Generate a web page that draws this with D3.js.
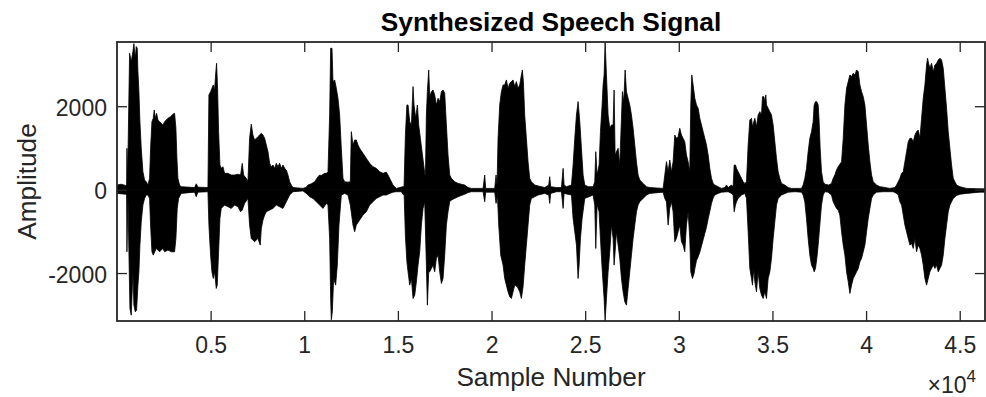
<!DOCTYPE html>
<html><head><meta charset="utf-8">
<script src="https://cdn.jsdelivr.net/npm/d3@7"></script>
<style>html,body{margin:0;padding:0;background:#fff;}svg{display:block;}</style>
</head><body>
<script>
// ---------- data ----------
const titleText = "Synthesized Speech Signal";
const xLabelText = "Sample Number";
const yLabelText = "Amplitude";
const xDomain = [1, 46350];
const yDomain = [-3150, 3540];
const xTickValues = [5000, 10000, 15000, 20000, 25000, 30000, 35000, 40000, 45000];
const xTickLabels = ["0.5", "1", "1.5", "2", "2.5", "3", "3.5", "4", "4.5"];
const yTickValues = [-2000, 0, 2000];
const yTickLabels = ["-2000", "0", "2000"];
const xExponent = "4";

// upper envelope of the waveform: [sample, amplitude]
const upperEnvelope = [
[1,110],[228,130],[459,100],[513,110],[531,990],[566,300],[602,1230],[673,3270],[762,3070],[851,3310],[904,3500],[976,3150],[1029,3430],[1082,3390],[1118,2830],[1171,2350],[1225,1630],[1296,990],[1385,430],[1474,230],[1563,190],[1652,110],[1741,270],[1794,990],[1866,1630],[1937,1710],[1990,1910],[2044,1710],[2115,1830],[2186,1670],[2275,1630],[2364,1590],[2453,1550],[2542,1630],[2631,1670],[2720,1710],[2862,1750],[2987,1810],[3076,1830],[3147,1470],[3201,750],[3254,270],[3343,110],[3432,70],[4144,50],[4233,140],[4322,60],[4856,50],[4909,2270],[4998,2350],[5070,2430],[5141,2510],[5212,2390],[5265,2750],[5319,3030],[5372,2430],[5426,1390],[5497,590],[5568,510],[5657,550],[5746,390],[5924,390],[6102,350],[6280,350],[6458,370],[6600,350],[6689,630],[6761,350],[6903,270],[6992,190],[7081,1230],[7170,1570],[7259,1310],[7348,1190],[7526,1270],
[7707,1350],[7796,1310],[7885,1230],[7974,1070],[8063,910],[8152,630],[8241,550],[8330,590],[8419,510],[8508,630],[8597,550],[8686,630],[8775,510],[8864,590],[8953,510],[9042,470],[9131,350],[9220,190],[9309,110],[9398,50],[9932,30],[10110,60],[10199,110],[10377,140],[10555,190],[10733,310],[10822,350],[10911,340],[11089,390],[11178,390],[11267,430],[11356,1790],[11409,3390],[11481,3390],[11534,2590],[11623,2630],[11712,2430],[11801,2190],[11890,1790],[11979,990],[12068,270],[12157,190],[12335,180],[12460,190],[12513,1390],[12602,1070],[12691,1190],[12780,1190],[12869,1070],[12958,990],[13136,870],[13314,750],[13492,630],[13670,550],[13848,510],[14026,430],[14204,390],[14382,420],[14471,350],[14560,270],[14738,110],[14916,30],[15094,50],[15272,70],
[15330,100],[15400,1300],[15480,2030],[15542,2030],[15631,1630],[15720,1550],[15809,2470],[15862,2030],[15951,1710],[16040,2030],[16112,1550],[16201,1230],[16290,910],[16379,590],[16468,270],[16521,1790],[16574,2350],[16646,2870],[16699,2230],[16788,2350],[16877,2390],[16966,2270],[17055,2030],[17144,2190],[17233,2110],[17322,2350],[17411,2390],[17500,2310],[17589,1550],[17678,830],[17767,350],[17856,270],[18034,190],[18212,150],[18390,130],[18568,110],[18746,50],[18924,30],[19547,30],[19636,350],[19689,30],[20170,30],[20241,350],[20295,110],[20348,1230],[20437,2030],[20526,2350],[20615,2510],[20704,2510],[20793,2630],[20882,2430],[20971,2550],[21060,2590],[21149,2630],[21238,2470],[21327,2590],[21416,2430],[21505,2510],[21594,2750],[21647,2870],[21701,2590],[21772,1790],[21861,1230],[21950,670],[22039,270],[22128,190],[22306,110],[22484,90],[22840,50],[23054,110],[23107,310],[23160,70],
[23466,50],[23733,50],[23822,510],[23875,110],[24000,70],[24267,110],[24356,590],[24445,1230],[24534,1790],[24623,2110],[24712,1630],[24801,990],[24890,350],[24979,110],[25157,70],[25424,70],[25513,190],[25566,910],[25638,350],[25744,590],[25816,1390],[25905,2030],[25958,2510],[26011,2750],[26065,3540],[26136,2750],[26225,1790],[26314,1470],[26403,1550],[26492,1550],[26545,2390],[26599,830],[26670,910],[26759,990],[26848,590],[26937,1710],[26990,2350],[27062,2110],[27133,2870],[27204,2350],[27293,2190],[27382,2030],[27471,1790],[27560,1470],[27649,1070],[27738,670],[27827,350],[27916,230],[28094,150],[28272,70],[28450,50],[29162,30],[29340,670],[29429,430],[29518,710],[29607,430],[29696,670],[29785,1310],[29874,1230],[29963,1270],[30052,1470],[30141,1310],[30230,1230],[30319,1150],[30408,830],[30497,670],[30586,430],[30639,2030],[30693,2750],[30764,2510],
[30855,2190],[30944,2030],[31033,1950],[31122,1710],[31211,1550],[31300,1390],[31389,1230],[31478,1070],[31567,830],[31656,510],[31745,270],[31834,150],[31923,110],[32101,70],[32279,30],[32457,50],[32546,110],[32635,50],[32813,110],[32902,70],[32955,590],[33027,590],[33080,510],[33169,430],[33258,350],[33347,270],[33436,190],[33525,150],[33614,190],[33703,1070],[33792,1670],[33881,1710],[33934,1510],[34006,1630],[34059,1710],[34148,1510],[34237,1790],[34326,1870],[34415,1790],[34468,2230],[34540,2230],[34593,2110],[34646,2270],[34682,2030],[34771,1950],[34860,1870],[34949,1790],[35038,1550],[35127,1150],[35216,750],[35305,430],[35394,270],[35483,150],[35661,110],[35839,50],[36017,30],[36551,30],[36640,110],[36729,270],[36818,510],[36907,910],[36996,1230],[37085,1390],[37174,1630],[37227,2030],[37299,2110],[37370,2110],[37441,2030],[37494,1630],[37548,990],[37619,430],[37708,190],[37797,130],[38010,110],[38153,150],[38242,270],[38331,350],[38420,470],[38509,550],
[38691,670],[38780,1230],[38869,2030],[38958,2430],[39047,2590],[39136,2750],[39225,2710],[39314,2790],[39403,2750],[39492,2870],[39581,2830],[39670,2510],[39759,2350],[39848,2230],[39937,2030],[40026,1550],[40115,1070],[40204,670],[40293,350],[40382,190],[40560,110],[40738,70],[40916,60],[41272,30],[41539,50],[41628,110],[41717,190],[41806,270],[41895,390],[41984,430],[42073,670],[42162,910],[42251,1150],[42340,1230],[42429,1230],[42518,1150],[42607,1310],[42696,1390],[42785,1430],[42874,1230],[42963,1710],[43052,2190],[43141,2510],[43230,2990],[43283,3150],[43337,3030],[43408,2910],[43497,3030],[43586,2830],[43675,2990],[43764,3030],[43853,3110],[43942,3150],[44031,3110],[44120,2910],[44209,2430],[44298,1950],[44387,1390],[44476,990],[44565,590],[44654,270],[44743,190],[44832,110],[45010,70],[45366,30],[46078,20],[46350,20]
];

// lower envelope of the waveform: [sample, amplitude]
const lowerEnvelope = [
[1,-90],[459,-110],[513,-130],[531,-1490],[584,-130],[637,-1490],[691,-2850],[762,-3010],[851,-1970],[904,-2770],[976,-2930],[1047,-2890],[1118,-2290],[1171,-1970],[1225,-1330],[1296,-770],[1385,-370],[1474,-210],[1563,-130],[1652,-130],[1741,-210],[1794,-850],[1866,-1490],[1937,-1570],[2097,-1410],[2275,-1490],[2453,-1410],[2542,-1490],[2720,-1450],[2898,-1490],[3076,-1490],[3147,-1170],[3218,-450],[3290,-210],[3432,-90],[4144,-60],[4233,-170],[4322,-60],[4856,-50],[4909,-850],[4998,-1570],[5070,-1970],[5141,-2130],[5212,-1970],[5301,-2370],[5354,-2290],[5426,-1490],[5497,-690],[5568,-450],[5746,-370],[5924,-410],[6102,-450],[6280,-370],[6458,-410],[6600,-530],[6689,-490],[6814,-330],[6992,-210],[7081,-850],[7170,-1170],[7348,-1250],[7526,-1170],[7650,-1330],
[7707,-930],[7796,-730],[7885,-610],[7974,-530],[8152,-490],[8330,-450],[8508,-370],[8686,-410],[8864,-450],[9042,-290],[9220,-130],[9398,-50],[9932,-30],[10110,-90],[10288,-170],[10466,-210],[10644,-290],[10822,-370],[11000,-450],[11178,-330],[11267,-370],[11356,-1170],[11409,-2610],[11445,-3120],[11498,-2930],[11570,-2130],[11676,-2290],[11765,-1810],[11854,-850],[11979,-130],[12157,-90],[12335,-130],[12460,-370],[12602,-850],[12691,-1010],[12780,-850],[12958,-730],[13136,-610],[13314,-530],[13492,-370],[13670,-290],[13848,-210],[14026,-170],[14204,-130],[14382,-130],[14560,-90],[14738,-60],[14916,-50],[15183,-50],[15307,-130],
[15330,-60],[15400,-1100],[15480,-1730],[15542,-1970],[15631,-2290],[15720,-2130],[15809,-2610],[15898,-2530],[15987,-2210],[16076,-1810],[16165,-1490],[16254,-850],[16343,-450],[16432,-290],[16521,-1810],[16574,-2770],[16646,-1970],[16699,-1970],[16788,-1890],[16877,-1810],[16966,-1970],[17055,-1650],[17144,-1570],[17233,-1970],[17322,-2250],[17411,-2130],[17500,-1570],[17589,-850],[17678,-530],[17767,-290],[17856,-250],[18034,-210],[18212,-170],[18390,-140],[18568,-110],[18746,-70],[18924,-50],[19547,-50],[19636,-290],[19689,-60],[20170,-60],[20241,-330],[20313,-130],[20384,-850],[20490,-1570],[20615,-1810],[20704,-2130],[20793,-2290],[20882,-2450],[20971,-2570],[21060,-2610],[21149,-2450],[21238,-2290],[21380,-2330],[21505,-2450],[21594,-2610],[21683,-2330],[21772,-1810],[21861,-1330],[21950,-850],[22039,-370],[22128,-210],[22306,-170],[22484,-130],[22840,-90],[23054,-130],[23107,-330],[23160,-90],
[23466,-50],[23733,-50],[23822,-450],[23875,-90],[24267,-130],[24356,-690],[24445,-1010],[24534,-1330],[24623,-2130],[24676,-1810],[24748,-1170],[24837,-690],[24979,-210],[25424,-130],[25513,-370],[25566,-1410],[25638,-370],[25744,-530],[25816,-1170],[25905,-1890],[26011,-2610],[26065,-3150],[26136,-2610],[26225,-1970],[26314,-1490],[26403,-850],[26492,-1170],[26545,-1810],[26599,-1490],[26670,-1010],[26759,-1330],[26848,-1650],[26937,-2130],[27026,-2450],[27115,-2690],[27204,-2770],[27293,-2370],[27382,-1970],[27471,-1570],[27560,-1170],[27649,-850],[27738,-530],[27827,-370],[27916,-290],[28094,-210],[28272,-130],[28450,-90],[29162,-60],[29251,-210],[29340,-290],[29429,-850],[29518,-450],[29607,-290],[29696,-530],[29785,-1250],[29874,-1170],[29963,-1010],[30052,-850],[30141,-1250],[30230,-1330],[30319,-1490],[30408,-850],[30497,-530],[30586,-1170],[30639,-1970],[30728,-2130],[30817,-2010],
[30855,-1900],[30944,-1700],[31033,-1610],[31122,-1500],[31211,-1350],[31300,-1200],[31389,-1050],[31478,-900],[31567,-700],[31656,-520],[31745,-330],[31834,-200],[31923,-130],[32101,-90],[32279,-60],[32635,-50],[32813,-90],[32902,-130],[32955,-530],[33027,-370],[33080,-290],[33169,-210],[33347,-130],[33525,-90],[33614,-210],[33703,-1010],[33792,-1890],[33881,-2130],[33934,-2290],[34006,-1890],[34059,-2210],[34148,-2450],[34237,-1970],[34326,-2370],[34415,-2530],[34504,-2610],[34593,-2450],[34682,-2610],[34771,-2130],[34860,-1970],[34949,-1650],[35038,-1170],[35127,-770],[35216,-370],[35305,-210],[35483,-130],[35839,-60],[36195,-50],[36551,-60],[36640,-130],[36729,-290],[36818,-690],[36907,-1170],[36996,-1570],[37085,-1810],[37174,-1890],[37227,-1970],[37299,-1890],[37370,-1650],[37441,-1330],[37530,-850],[37619,-370],[37708,-130],[37797,-50],[37975,-60],[38153,-130],[38242,-290],[38331,-370],[38420,-450],[38509,-490],[38598,-610],
[38691,-1010],[38780,-1330],[38869,-1570],[38958,-1970],[39047,-2210],[39136,-2490],[39225,-2290],[39314,-2130],[39403,-2050],[39492,-1970],[39581,-1890],[39670,-1730],[39759,-1650],[39848,-1490],[39937,-1330],[40026,-1010],[40115,-690],[40204,-450],[40293,-210],[40382,-130],[40560,-60],[40916,-50],[41450,-50],[41628,-90],[41717,-130],[41806,-290],[41895,-370],[41984,-610],[42073,-850],[42162,-1010],[42251,-1170],[42340,-1330],[42429,-1290],[42518,-1410],[42607,-1170],[42696,-1490],[42785,-1330],[42874,-1410],[42963,-1570],[43052,-1810],[43141,-2130],[43230,-2290],[43319,-2130],[43408,-1970],[43497,-1890],[43586,-1810],[43675,-1890],[43764,-1810],[43853,-1970],[43942,-1890],[44031,-1810],[44120,-1570],[44209,-1170],[44298,-850],[44387,-530],[44476,-370],[44565,-290],[44654,-210],[44832,-140],[45010,-110],[45366,-90],[46078,-60],[46350,-60]
];

// ---------- drawing ----------
const W = 986, H = 397;
const m = {left: 117, right: 985, top: 42, bottom: 321};
const FONT = "'Liberation Sans', Arial, Helvetica, sans-serif";
const INK = "#262626";

const svg = d3.select("body").append("svg").attr("width", W).attr("height", H)
  .style("font-family", FONT);

const x = d3.scaleLinear().domain(xDomain).range([m.left, m.right]);
const y = d3.scaleLinear().domain(yDomain).range([m.bottom, m.top]);

svg.append("clipPath").attr("id", "clip").append("rect")
  .attr("x", m.left).attr("y", m.top).attr("width", m.right - m.left).attr("height", m.bottom - m.top);

const g = svg.append("g").attr("clip-path", "url(#clip)");
const area = d3.area().x(d => x(d[0])).y0(y(0)).y1(d => y(d[1])).curve(d3.curveLinear);
[upperEnvelope, lowerEnvelope].forEach(env => {
  g.append("path").datum(env).attr("d", area)
    .attr("fill", "#000").attr("stroke", "#000").attr("stroke-width", 0.8).attr("stroke-linejoin", "miter");
});

const tickLen = 10;
const fmtX = v => xTickLabels[xTickValues.indexOf(v)];
const fmtY = v => yTickLabels[yTickValues.indexOf(v)];

function styleAxis(sel) {
  sel.select(".domain").remove();
  sel.selectAll(".tick line").attr("stroke", INK).attr("stroke-width", 1.3);
  sel.selectAll("text").attr("fill", INK).style("font-size", "23px").style("font-family", FONT);
}

const gx = svg.append("g").attr("transform", `translate(0,${m.bottom})`)
  .call(d3.axisBottom(x).tickValues(xTickValues).tickFormat(fmtX).tickSizeInner(-tickLen).tickSizeOuter(0).tickPadding(16));
styleAxis(gx);
const gxt = svg.append("g").attr("transform", `translate(0,${m.top})`)
  .call(d3.axisTop(x).tickValues(xTickValues).tickFormat("").tickSizeInner(-tickLen).tickSizeOuter(0));
styleAxis(gxt);
const gy = svg.append("g").attr("transform", `translate(${m.left},0)`)
  .call(d3.axisLeft(y).tickValues(yTickValues).tickFormat(fmtY).tickSizeInner(-tickLen).tickSizeOuter(0).tickPadding(10));
styleAxis(gy);
gy.selectAll("text").attr("dy", "0.4em");
const gyr = svg.append("g").attr("transform", `translate(${m.right},0)`)
  .call(d3.axisRight(y).tickValues(yTickValues).tickFormat("").tickSizeInner(-tickLen).tickSizeOuter(0));
styleAxis(gyr);

svg.append("rect").attr("x", m.left).attr("y", m.top)
  .attr("width", m.right - m.left).attr("height", m.bottom - m.top)
  .attr("fill", "none").attr("stroke", INK).attr("stroke-width", 1.8);

svg.append("text").attr("x", (m.left + m.right) / 2).attr("y", 31)
  .attr("text-anchor", "middle").attr("fill", "#000").style("font-weight", "bold").style("font-size", "26.3px")
  .text(titleText);

svg.append("text").attr("x", (m.left + m.right) / 2).attr("y", 386)
  .attr("text-anchor", "middle").attr("fill", INK).style("font-size", "26.2px").text(xLabelText);

svg.append("text").attr("transform", `translate(36,${(m.top + m.bottom) / 2}) rotate(-90)`)
  .attr("text-anchor", "middle").attr("fill", INK).style("font-size", "26.2px").text(yLabelText);

const ex = svg.append("text").attr("x", 976).attr("y", 393).attr("text-anchor", "end")
  .attr("fill", INK).style("font-size", "23px");
ex.append("tspan").text("\u00d710");
ex.append("tspan").attr("dy", -11).style("font-size", "17px").text(xExponent);
</script>
</body></html>
